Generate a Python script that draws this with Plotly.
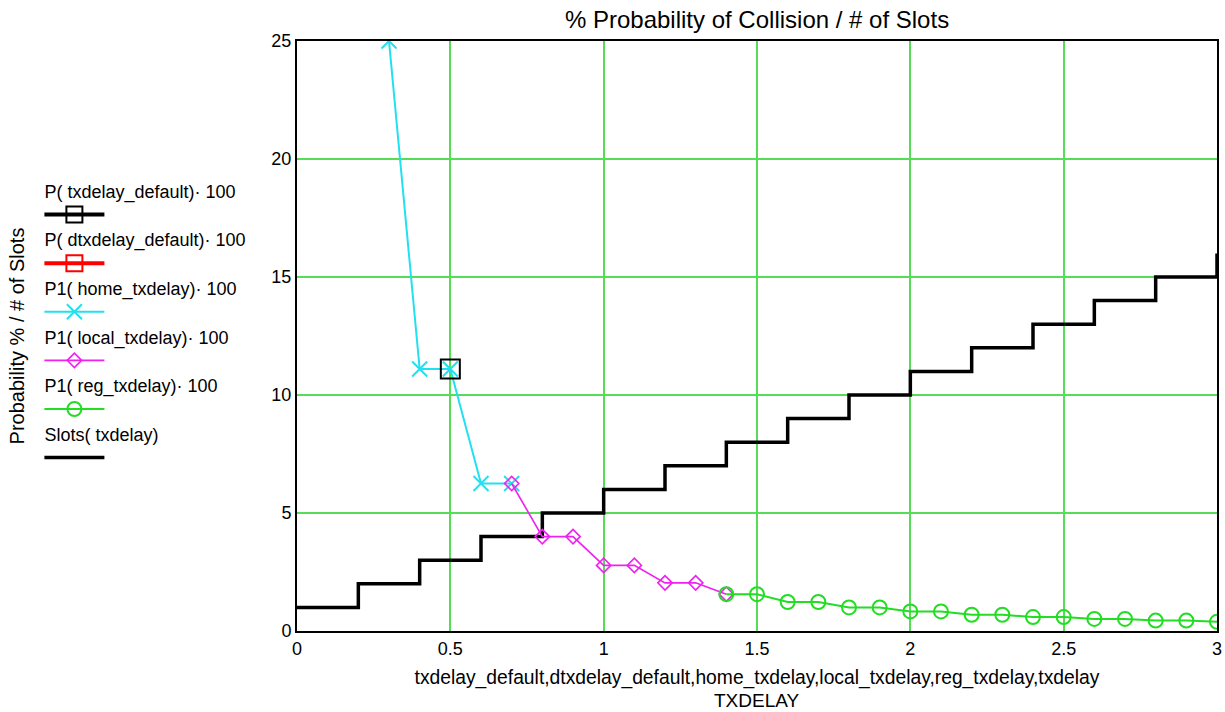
import plotly.graph_objects as go

# ---------------- data ----------------
chart_title = "% Probability of Collision / # of Slots"
x_title = "txdelay_default,dtxdelay_default,home_txdelay,local_txdelay,reg_txdelay,txdelay"
x_title2 = "TXDELAY"
y_title = "Probability % / # of Slots"

labels = [
    "P( txdelay_default)· 100",
    "P( dtxdelay_default)· 100",
    "P1( home_txdelay)· 100",
    "P1( local_txdelay)· 100",
    "P1( reg_txdelay)· 100",
    "Slots( txdelay)",
]

default_x = [0.5]
default_y = [11.1]

# dtxdelay_default: not visible inside the plotted range
dtx_x = [0.5]
dtx_y = [None]

home_x = [0.3, 0.4, 0.5, 0.6, 0.7]
home_y = [25.0, 11.1, 11.1, 6.25, 6.25]

local_x = [0.7, 0.8, 0.9, 1.0, 1.1, 1.2, 1.3, 1.4]
local_y = [6.25, 4.0, 4.0, 2.78, 2.78, 2.04, 2.04, 1.56]

reg_x = [1.4, 1.5, 1.6, 1.7, 1.8, 1.9, 2.0, 2.1, 2.2, 2.3, 2.4, 2.5, 2.6, 2.7, 2.8, 2.9, 3.0]
reg_y = [1.56, 1.56, 1.23, 1.23, 1.0, 1.0, 0.83, 0.83, 0.69, 0.69, 0.59, 0.59, 0.51, 0.51, 0.44, 0.44, 0.39]

slots_x = [0, 0.2, 0.4, 0.6, 0.8, 1.0, 1.2, 1.4, 1.6, 1.8, 2.0, 2.2, 2.4, 2.6, 2.8, 3.0]
slots_y = [1, 2, 3, 4, 5, 6, 7, 8, 9, 10, 11, 12, 13, 14, 15, 16]

x_ticks = [0, 0.5, 1, 1.5, 2, 2.5, 3]
y_ticks = [0, 5, 10, 15, 20, 25]

# ---------------- styling ----------------
FONT = "Liberation Sans, Arial, sans-serif"
GRID = "#55DD55"
CYAN = "#22E0F0"
MAGENTA = "#F020F0"
GREEN = "#22DD22"
RED = "#FF0000"

fig = go.Figure()


def add(x, y, label, color, mode, lw, symbol=None, msize=None, mlw=2):
    marker = dict(color=color)
    if symbol:
        marker = dict(symbol=symbol, size=msize, color=color,
                      line=dict(color=color, width=mlw))
    fig.add_trace(go.Scatter(
        x=x, y=y, mode=mode, name=" ",
        line=dict(color=color, width=lw),
        marker=marker,
        legendgroup=label,
        legendgrouptitle=dict(text=label),
        hovertemplate=label + ": %{y}<extra></extra>",
    ))


add(slots_x, slots_y, labels[5], "#000000", "lines", 3.5)
fig.data[-1].line.shape = "hv"
add(home_x, home_y, labels[2], CYAN, "lines+markers", 2, "x-thin-open", 15, 2)
add(local_x, local_y, labels[3], MAGENTA, "lines+markers", 1.6, "diamond-open", 11, 1.6)
add(reg_x, reg_y, labels[4], GREEN, "lines+markers", 2, "circle-open", 14, 2)
add(dtx_x, dtx_y, labels[1], RED, "lines+markers", 4, "square-open", 19, 2)
add(default_x, default_y, labels[0], "#000000", "lines+markers", 4, "square-open", 19, 2)

# legend order as in the reference
order = {labels[i]: i for i in range(len(labels))}
for tr in fig.data:
    tr.legendrank = order[tr.legendgroup] + 1

fig.update_layout(
    width=1225, height=712,
    paper_bgcolor="white", plot_bgcolor="white",
    font=dict(family=FONT, size=18, color="#000000"),
    margin=dict(l=297, r=8, t=41, b=81),
    title=dict(text=chart_title, x=0.618, xanchor="center", y=0.972,
               yanchor="middle", font=dict(size=24)),
    showlegend=True,
    legend=dict(
        x=-0.280, xanchor="left", y=0.777, yanchor="top",
        bgcolor="rgba(0,0,0,0)",
        traceorder="grouped",
        tracegroupgap=1,
        itemwidth=60,
        font=dict(size=14),
        grouptitlefont=dict(size=18, family=FONT),
    ),
    annotations=[dict(
        text=x_title2, xref="paper", yref="paper", x=0.5, y=-0.117,
        xanchor="center", yanchor="middle", showarrow=False,
        font=dict(size=19),
    )],
)

fig.update_xaxes(
    range=[0, 3], tickvals=x_ticks, ticktext=[str(v) for v in x_ticks],
    showgrid=True, gridcolor=GRID, gridwidth=1.5,
    showline=True, linecolor="#000000", linewidth=2, mirror=True,
    zeroline=False, ticks="", tickfont=dict(size=18),
    ticklabeloverflow="allow",
    title=dict(text=x_title, font=dict(size=19.3), standoff=13),
    automargin=False,
)
fig.update_yaxes(
    range=[0, 25], tickvals=y_ticks, ticktext=[str(v) for v in y_ticks],
    showgrid=True, gridcolor=GRID, gridwidth=1.5,
    showline=True, linecolor="#000000", linewidth=2, mirror=True,
    zeroline=False, ticks="", tickfont=dict(size=18),
    title=dict(text=y_title, font=dict(size=20), standoff=241),
    automargin=False,
)

# remove the default page margin so the 1225x712 figure fills the window exactly
fig.write_html(
    "out.html",
    config={"displayModeBar": False},
    post_script="document.body.style.margin='0';document.body.style.overflow='hidden';",
)
